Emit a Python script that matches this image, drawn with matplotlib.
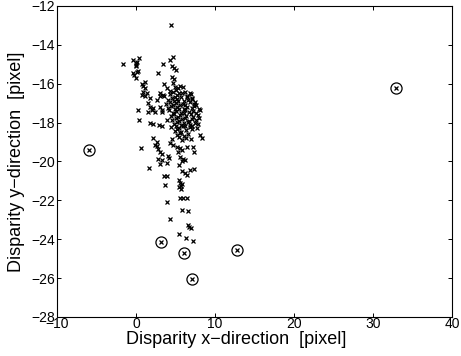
import numpy as np
import matplotlib
matplotlib.use("Agg")
import matplotlib.pyplot as plt

# disparity of matched points (pixels)
disp_x = [
    4.4, -1.7, -0.4, 0.0, 0.15, 0.4, -0.05, 0.05,
    -0.4, -0.25, 0.1, 0.3, 0.05, 0.7, 1.1, 0.9, 1.2,
    2.8, 3.4, 3.5, 4.3, 4.7, 4.6, 4.8, 5.1, 4.5, 4.8, 4.7,
    3.9, 4.9, 5.35, 5.9, 5.6, 3.05, 6.8,
    0.9, 1.35, 0.7, 1.15, 1.8, 1.55, 1.8, 2.2, 2.0, 2.4, 1.55,
    2.6, 3.0, 3.45, 3.0, 3.25, 0.3, 0.4, 1.8, 2.1, 2.85, 3.25, 3.9,
    6.4, 7.05, 6.6,
    4.25, 4.65, 5.05, 5.45, 6.15,
    3.55, 4.35, 4.95, 5.25, 5.85, 6.45, 6.95,
    4.05, 4.55, 4.75, 5.25, 5.65, 6.05, 7.15, 7.45,
    3.85, 4.35, 4.65, 5.05, 5.35, 5.95, 6.25, 6.85, 7.35, 7.65,
    4.05, 4.45, 4.95, 5.15, 5.55, 6.05, 6.45, 7.05, 7.35, 7.95,
    3.25, 4.15, 4.65, 5.05, 5.45, 5.65, 6.25, 6.65, 7.25, 7.55, 8.05,
    4.45, 4.75, 5.35, 5.55, 6.05, 6.35, 6.95, 7.25, 7.85,
    4.55, 5.05, 5.45, 5.85, 6.25, 6.65, 7.05, 7.55, 7.95,
    4.85, 5.15, 5.65, 6.05, 6.55, 6.85, 7.45, 7.85,
    4.45, 5.05, 5.45, 5.95, 6.15, 6.85, 7.15, 7.75,
    4.95, 5.25, 5.75, 6.35, 7.05,
    5.15, 5.55, 6.05, 6.55, 8.1,
    4.55, 5.45, 5.85, 6.35, 6.9, 8.3,
    2.2, 2.6, 2.4,
    2.6, 2.8, 3.0, 3.25, 2.8, 3.25, 4.1, 4.2, 3.0, 3.9, 1.7, 0.6,
    4.3, 4.7, 5.15, 5.55, 5.35, 5.8, 6.4, 7.25, 7.35,
    5.55, 6.0, 5.8, 5.5, 6.2,
    5.8, 6.2, 6.8, 7.3, 6.5, 3.5, 3.9, 3.7,
    5.4, 5.6, 5.7, 5.5, 5.8, 5.65,
    5.6, 6.0, 6.5, 3.9, 5.8, 6.6, 4.3,
    6.6, 6.9, 6.75, 5.5, 6.3, 7.2,
]
disp_y = [
    -13.0, -15.0, -14.8, -14.95, -14.9, -14.7, -15.05, -15.1,
    -15.45, -15.55, -15.4, -15.35, -15.7, -16.0, -15.9, -16.1, -16.2,
    -15.45, -15.0, -16.0, -14.8, -14.6, -15.1, -15.2, -15.3, -15.65, -15.75, -15.95,
    -16.2, -16.15, -16.2, -16.15, -16.1, -16.5, -16.5,
    -16.4, -16.5, -16.6, -16.65, -16.75, -17.0, -17.2, -17.25, -17.35, -17.45, -17.45,
    -16.85, -16.65, -16.6, -17.2, -17.35, -17.35, -17.85, -18.0, -18.05, -18.1, -18.2, -17.85,
    -16.65, -16.75, -16.85,
    -16.35, -16.45, -16.3, -16.5, -16.4,
    -16.65, -16.55, -16.7, -16.6, -16.5, -16.7, -16.55,
    -16.85, -16.75, -16.9, -16.8, -16.7, -16.9, -16.8, -16.95,
    -17.05, -16.95, -17.1, -17.0, -16.9, -17.05, -17.1, -16.95, -17.05, -17.1,
    -17.25, -17.15, -17.3, -17.2, -17.1, -17.3, -17.2, -17.25, -17.15, -17.3,
    -17.45, -17.35, -17.5, -17.4, -17.3, -17.5, -17.35, -17.45, -17.4, -17.5, -17.35,
    -17.65, -17.55, -17.7, -17.6, -17.5, -17.65, -17.55, -17.7, -17.6,
    -17.85, -17.75, -17.9, -17.8, -17.75, -17.9, -17.8, -17.85, -17.75,
    -18.05, -17.95, -18.1, -18.0, -17.95, -18.1, -18.0, -18.05,
    -18.25, -18.15, -18.3, -18.2, -18.15, -18.25, -18.2, -18.3,
    -18.45, -18.35, -18.5, -18.4, -18.35,
    -18.65, -18.55, -18.7, -18.6, -18.65,
    -18.85, -18.75, -18.9, -18.8, -18.85, -18.8,
    -18.8, -19.0, -19.15,
    -19.2, -19.35, -19.5, -19.6, -19.85, -19.9, -19.7, -19.8, -20.15, -20.1, -20.35, -19.3,
    -19.05, -19.15, -19.25, -19.3, -19.5, -19.4, -19.25, -19.25, -19.5,
    -19.75, -19.85, -20.0, -20.2, -19.9,
    -20.5, -20.6, -20.45, -20.4, -20.7, -20.75, -20.75, -21.2,
    -20.95, -21.1, -21.25, -21.3, -21.15, -21.4,
    -21.9, -21.9, -21.9, -22.1, -22.5, -22.55, -22.95,
    -23.25, -23.4, -23.35, -23.75, -23.95, -24.1,
]

# points flagged as outliers (circled)
outlier_x = [-6.0, 32.9, 3.2, 6.1, 7.1, 12.8]
outlier_y = [-19.4, -16.2, -24.15, -24.7, -26.05, -24.55]

plt.rcParams["font.family"] = ["Liberation Sans", "DejaVu Sans"]

fig = plt.figure(figsize=(4.61, 3.56), dpi=100)
ax = fig.add_axes([0.1236, 0.1096, 0.857, 0.8736])

ax.plot(disp_x, disp_y, "kx", markersize=3.4, markeredgewidth=0.9)
ax.plot(outlier_x, outlier_y, "kx", markersize=3.4, markeredgewidth=0.9)
ax.plot(outlier_x, outlier_y, "o", markerfacecolor="none",
        markeredgecolor="k", markersize=8, markeredgewidth=0.9)

ax.set_xlim(-10, 40)
ax.set_ylim(-28, -12)
ax.set_xticks(np.arange(-10, 41, 10))
ax.set_yticks(np.arange(-28, -11, 2))

ax.tick_params(direction="in", length=3, width=0.7, top=True, right=True,
               labelsize=10, pad=1.5)
ax.tick_params(axis="x", pad=0.3)
for s in ax.spines.values():
    s.set_linewidth(0.8)

ax.set_xlabel("Disparity x\u2212direction  [pixel]", fontsize=13)
ax.set_ylabel("Disparity y\u2212direction  [pixel]", fontsize=13)
ax.xaxis.set_label_coords(0.454, -0.046)
ax.yaxis.set_label_coords(-0.08, 0.5)

fig.savefig("out.png", dpi=100)
